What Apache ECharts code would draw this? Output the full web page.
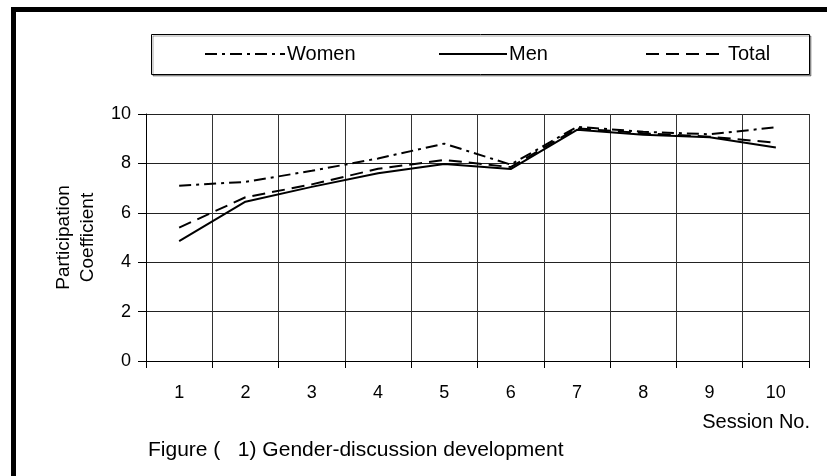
<!DOCTYPE html>
<html>
<head>
<meta charset="utf-8">
<script src="https://cdn.jsdelivr.net/npm/echarts@6/dist/echarts.min.js"></script>
<style>
html,body{margin:0;padding:0;background:#fff;}
#chart{width:827px;height:476px;}
</style>
</head>
<body>
<div id="chart"></div>
<script>
const categories = ['1','2','3','4','5','6','7','8','9','10'];
const women = [7.1, 7.25, 7.7, 8.2, 8.8, 7.95, 9.48, 9.28, 9.18, 9.46];
const men   = [4.85, 6.45, 7.05, 7.6, 7.98, 7.77, 9.36, 9.16, 9.06, 8.64];
const total = [5.4, 6.63, 7.15, 7.78, 8.14, 7.85, 9.42, 9.22, 9.08, 8.84];
const yTicks = [0, 2, 4, 6, 8, 10];

const FONT = "'Liberation Sans', Arial, sans-serif";
const chart = echarts.init(document.getElementById('chart'), null, {renderer: 'canvas'});

function legendFor(name, left, w) {
  return {
    data: [name], left: left, top: 44, padding: 0,
    itemWidth: w, itemHeight: 14, itemGap: 0,
    itemStyle: {opacity: 0},
    textStyle: {fontFamily: FONT, fontSize: 20, color: '#000', padding: [0,0,0,-3]},
    selectedMode: false
  };
}

chart.setOption({
  backgroundColor: '#fff',
  animation: false,
  title: [
    {text: 'Session No.', right: 17, top: 412, padding: 0,
     textStyle: {fontFamily: FONT, fontSize: 20, fontWeight: 'normal', color: '#000'}},
    {text: 'Figure (   1) Gender-discussion development', left: 148, top: 440, padding: 0,
     textStyle: {fontFamily: FONT, fontSize: 21, fontWeight: 'normal', color: '#000'}}
  ],
  legend: [
    legendFor('Women', 204, 80),
    legendFor('Men', 438, 68),
    legendFor('Total', 645, 80)
  ],
  graphic: [
    {type: 'rect', shape: {x: 13.5, y: 9.5, width: 1000, height: 1000},
     style: {fill: 'none', stroke: '#000', lineWidth: 5}, z: 0},
    {type: 'rect', shape: {x: 151.5, y: 34.5, width: 658, height: 40},
     style: {fill: '#fff', stroke: '#000', lineWidth: 1,
             shadowColor: 'rgba(0,0,0,0.35)', shadowOffsetX: 1.5, shadowOffsetY: 1.5, shadowBlur: 0}, z: -1}
  ],
  grid: {left: 146, right: 18, top: 114, bottom: 115},
  xAxis: {
    type: 'category', data: categories, boundaryGap: true,
    axisLine: {show: true, lineStyle: {color: '#000', width: 1}},
    axisTick: {show: true, length: 7, alignWithLabel: false, lineStyle: {color: '#000'}},
    splitLine: {show: true, lineStyle: {color: '#333', width: 1}},
    axisLabel: {fontFamily: FONT, fontSize: 18, color: '#000', margin: 23}
  },
  yAxis: {
    type: 'value', min: yTicks[0], max: yTicks[yTicks.length-1], interval: 2,
    name: 'Participation\nCoefficient', nameLocation: 'middle', nameRotate: 90, nameGap: 46,
    nameTextStyle: {fontFamily: FONT, fontSize: 19, color: '#000', lineHeight: 24, align: 'center'},
    axisLine: {show: true, lineStyle: {color: '#000', width: 1}},
    axisTick: {show: true, length: 8, lineStyle: {color: '#000'}},
    splitLine: {show: true, lineStyle: {color: '#222', width: 1}},
    axisLabel: {fontFamily: FONT, fontSize: 18, color: '#000', margin: 15}
  },
  series: [
    {name: 'Women', type: 'line', data: women, symbol: 'none',
     lineStyle: {color: '#000', width: 2, type: [12, 5, 3, 5]}, itemStyle: {color: '#000'}},
    {name: 'Men', type: 'line', data: men, symbol: 'none',
     lineStyle: {color: '#000', width: 2, type: 'solid'}, itemStyle: {color: '#000'}},
    {name: 'Total', type: 'line', data: total, symbol: 'none',
     lineStyle: {color: '#000', width: 2, type: [13, 7]}, itemStyle: {color: '#000'}}
  ]
});
</script>
</body>
</html>
